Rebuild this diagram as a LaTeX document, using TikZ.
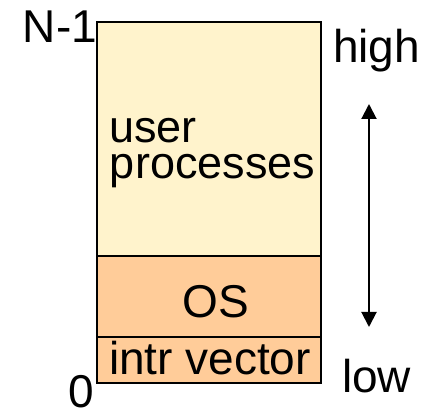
\documentclass[tikz,border=0pt]{standalone}
\usepackage{fontspec}
\setmainfont{Liberation Sans}
\usetikzlibrary{arrows.meta}
\definecolor{userfill}{HTML}{FFF3CC}
\definecolor{osfill}{HTML}{FFCC99}
\begin{document}
\begin{tikzpicture}[x=1pt,y=-1pt,
  region/.style={draw=black, line width=2.5pt, minimum width=224pt, inner sep=0pt, outer sep=0pt},
  label/.style={inner sep=0pt, outer sep=0pt, font=\fontsize{46}{36}\selectfont},
  textlabel/.style={label, font=\fontsize{45}{36}\selectfont},
  bigarrow/.style={line width=2pt, {Triangle[length=15pt,width=15pt]}-{Triangle[length=15pt,width=15pt]}}]
  \useasboundingbox (0,0) rectangle (432,409);
  % memory layout, from top address down to address 0
  \node[region, fill=userfill, minimum height=234pt] (user) at (209,139) {};
  \node[region, fill=osfill, minimum height=81pt] (os) at (209,296.5) {};
  \node[region, fill=osfill, minimum height=46pt] (intr) at (209,360) {};
  % region names
  \node[textlabel, anchor=base west] (usertxt) at (109,143) {user};
  \node[textlabel, anchor=base west] (proctxt) at (110,179) {processes};
  \node[label, anchor=base] (ostxt) at (216,318) {OS};
  \node[label, anchor=base west] (intrtxt) at (109,375) {intr vector};
  % address bounds
  \node[label, anchor=base east] (nmax) at (97,43) {N-1};
  \node[label, anchor=base east] (zero) at (94,408) {0};
  % priority scale
  \node[label, anchor=base west] (high) at (333,63) {high};
  \node[label, anchor=base west] (low) at (342,393) {low};
  \coordinate (atop) at (369,104);
  \coordinate (abot) at (369,327);
  \draw[bigarrow] (atop) -- (abot);
\end{tikzpicture}
\end{document}
